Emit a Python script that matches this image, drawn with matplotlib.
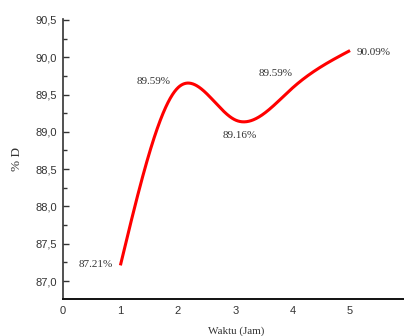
import numpy as np
import matplotlib
matplotlib.use("Agg")
import matplotlib.pyplot as plt
from matplotlib.ticker import MultipleLocator, FuncFormatter

# data
waktu = [1, 2, 3, 4, 5]
persen_d = [87.21, 89.59, 89.16, 89.59, 90.09]
labels = ["87.21%", "89.59%", "89.16%", "89.59%", "90.09%"]
label_offsets = [(-8, 1), (-24, 6), (5, -16), (-17, 14), (24, -2)]  # pixels
xticks = [0, 1, 2, 3, 4, 5]
yticks = [87.0, 87.5, 88.0, 88.5, 89.0, 89.5, 90.0, 90.5]

W, H = 404, 336
fig = plt.figure(figsize=(W / 100, H / 100), dpi=100)
ax = fig.add_axes([63 / W, 37 / H, (W - 63) / W, 280 / H])
ax.set_xlim(0, 5.94)
ax.set_ylim(86.759, 90.513)


def natural_spline(x, y, xx):
    x = np.asarray(x, float)
    y = np.asarray(y, float)
    n = len(x)
    h = np.diff(x)
    A = np.zeros((n, n))
    b = np.zeros(n)
    A[0, 0] = 1
    A[-1, -1] = 1
    for i in range(1, n - 1):
        A[i, i - 1] = h[i - 1]
        A[i, i] = 2 * (h[i - 1] + h[i])
        A[i, i + 1] = h[i]
        b[i] = 6 * ((y[i + 1] - y[i]) / h[i] - (y[i] - y[i - 1]) / h[i - 1])
    M = np.linalg.solve(A, b)
    out = np.empty_like(xx)
    for k, v in enumerate(xx):
        i = min(max(np.searchsorted(x, v, side="right") - 1, 0), n - 2)
        a = x[i + 1] - v
        c = v - x[i]
        hi = h[i]
        out[k] = (M[i] * a ** 3 / (6 * hi) + M[i + 1] * c ** 3 / (6 * hi)
                  + (y[i] / hi - M[i] * hi / 6) * a
                  + (y[i + 1] / hi - M[i + 1] * hi / 6) * c)
    return out


xx = np.linspace(waktu[0], waktu[-1], 600)
yy = natural_spline(waktu, persen_d, xx)
ax.plot(xx, yy, color="#ff0000", lw=2.2, solid_capstyle="butt")

for xv, yv, lab, off in zip(waktu, persen_d, labels, label_offsets):
    ha = "right" if off[0] == -8 else "center"
    ax.annotate(lab, (xv, yv), xytext=off, textcoords="offset pixels",
                ha=ha, va="center", fontsize=8, family="Liberation Serif",
                color="#333333")

for s in ["top", "right"]:
    ax.spines[s].set_visible(False)
ax.spines["left"].set_color("#333333")
ax.spines["left"].set_linewidth(1.2)
ax.spines["bottom"].set_color("#111111")
ax.spines["bottom"].set_linewidth(1.4)

ax.set_xticks(xticks)
ax.set_yticks(yticks)
ax.yaxis.set_minor_locator(MultipleLocator(0.25))
ax.yaxis.set_major_formatter(FuncFormatter(lambda v, p: f"{v:.1f}".replace(".", ",")))
ax.tick_params(axis="y", which="major", direction="in", length=4, width=1,
               color="#333333", labelsize=8, labelcolor="#333333", pad=4.3)
ax.tick_params(axis="y", which="minor", direction="in", length=3, width=1,
               color="#333333")
ax.tick_params(axis="x", which="major", length=0, labelsize=8,
               labelcolor="#333333", pad=5)
for lab in ax.get_xticklabels() + ax.get_yticklabels():
    lab.set_family("Liberation Sans")

ax.set_xlabel("Waktu (Jam)", family="Liberation Serif", fontsize=8,
              color="#333333")
ax.xaxis.set_label_coords(0.507, -0.098)
ax.set_ylabel("% D", family="Liberation Serif", fontsize=9.5, color="#333333")
ax.yaxis.set_label_coords(-0.117, 0.5)

fig.savefig("out.png", dpi=100)
